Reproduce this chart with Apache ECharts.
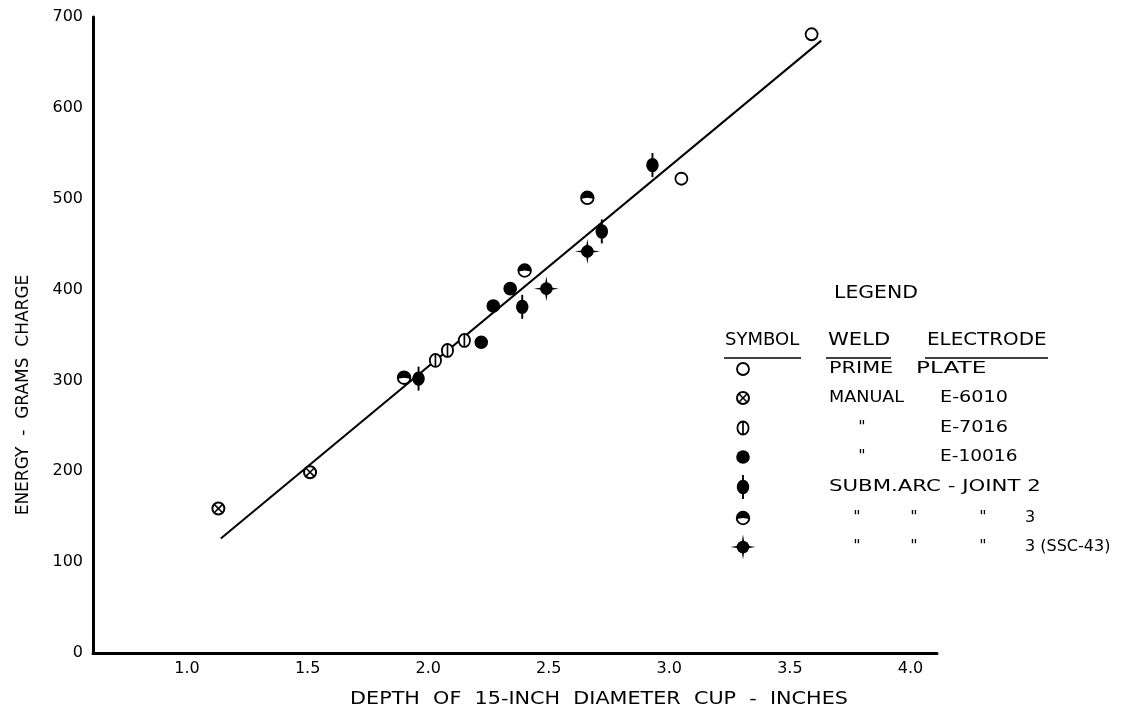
<!DOCTYPE html>
<html>
<head>
<meta charset="utf-8">
<script src="https://cdn.jsdelivr.net/npm/echarts@6/dist/echarts.min.js"></script>
<style>html,body{margin:0;padding:0;background:#fff;}#c{width:1133px;height:711px;}</style>
</head>
<body>
<div id="c"></div>
<script>
// ---- data ----
const X_TICKS = [1.0, 1.5, 2.0, 2.5, 3.0, 3.5, 4.0];
const Y_TICKS = [0, 100, 200, 300, 400, 500, 600, 700];

const PRIME_X = [3.05, 3.59];          // open circle: prime plate
const PRIME_Y = [522, 681];
const E6010_X = [1.13, 1.51];          // circle with X: manual E-6010
const E6010_Y = [159, 199];
const E7016_X = [2.03, 2.08, 2.15];    // circle with bar: manual E-7016
const E7016_Y = [322, 333, 344];
const E10016_X = [2.22, 2.27, 2.34];   // solid circle: manual E-10016
const E10016_Y = [342, 382, 401];
const JOINT2_X = [1.96, 2.39, 2.72, 2.93]; // subm. arc joint 2
const JOINT2_Y = [302, 381, 464, 537];
const JOINT3_X = [1.90, 2.40, 2.66];   // subm. arc joint 3
const JOINT3_Y = [303, 421, 501];
const SSC43_X = [2.49, 2.66];          // subm. arc joint 3 (SSC-43)
const SSC43_Y = [401, 442];
const FIT_X = [1.14, 3.63];            // fitted straight line
const FIT_Y = [126, 674];

const FONT = 'DejaVu Sans';

function pairs(xs, ys) { return xs.map((x, i) => [x, ys[i]]); }

function shapes(kind, cx, cy) {
  const k = '#000';
  const line = (x1, y1, x2, y2, w) => ({ type: 'line', shape: { x1, y1, x2, y2 }, style: { stroke: k, lineWidth: w || 1.5 } });
  switch (kind) {
    case 'open':
      return [{ type: 'circle', shape: { cx, cy, r: 6 }, style: { fill: '#fff', stroke: k, lineWidth: 1.8 } }];
    case 'xcircle':
      return [
        { type: 'circle', shape: { cx, cy, r: 6 }, style: { fill: '#fff', stroke: k, lineWidth: 2 } },
        line(cx - 4.2, cy - 4.2, cx + 4.2, cy + 4.2, 1.6),
        line(cx - 4.2, cy + 4.2, cx + 4.2, cy - 4.2, 1.6)
      ];
    case 'phi':
      return [
        { type: 'ellipse', shape: { cx, cy, rx: 5.6, ry: 6.5 }, style: { fill: '#fff', stroke: k, lineWidth: 1.8 } },
        line(cx, cy - 6.5, cx, cy + 6.5, 1.7)
      ];
    case 'solid':
      return [{ type: 'circle', shape: { cx, cy, r: 6.8 }, style: { fill: k } }];
    case 'joint2':
      return [
        { type: 'ellipse', shape: { cx, cy, rx: 6.2, ry: 7.2 }, style: { fill: k } },
        line(cx, cy - 12, cx, cy + 12, 1.9)
      ];
    case 'half':
      return [
        { type: 'circle', shape: { cx, cy, r: 6.3 }, style: { fill: '#fff', stroke: k, lineWidth: 1.8 } },
        { type: 'sector', shape: { cx, cy, r: 6.3, r0: 0, startAngle: Math.PI * 0.95, endAngle: Math.PI * 2.05 }, style: { fill: k } }
      ];
    case 'ssc':
      return [
        { type: 'circle', shape: { cx, cy, r: 6.3 }, style: { fill: k } },
        { type: 'polygon', shape: { points: [[cx, cy - 12.5], [cx + 1.7, cy - 1.7], [cx + 12.5, cy], [cx + 1.7, cy + 1.7], [cx, cy + 12.5], [cx - 1.7, cy + 1.7], [cx - 12.5, cy], [cx - 1.7, cy - 1.7]] }, style: { fill: k } }
      ];
  }
  return [];
}

function markerSeries(kind, xs, ys) {
  return {
    type: 'custom',
    data: pairs(xs, ys),
    encode: { x: 0, y: 1 },
    z: 5,
    renderItem: function (params, api) {
      const p = api.coord([api.value(0), api.value(1)]);
      return { type: 'group', children: shapes(kind, p[0], p[1]) };
    }
  };
}

// ---- legend (drawn as a table) ----
const LEG_SYM_X = 743;
const LEG_ROWS_Y = [369, 398, 428, 457, 487, 518, 547];
const LEG_KINDS = ['open', 'xcircle', 'phi', 'solid', 'joint2', 'half', 'ssc'];
const txt = (s, x, y, align, size, sx) => ({
  type: 'text', x, y, z: 10, scaleX: sx || 1,
  style: { text: s, font: (size || 16) + 'px "' + FONT + '"', fill: '#000', textAlign: align || 'left', textVerticalAlign: 'middle' }
});
const hline = (x1, x2, y) => ({ type: 'line', z: 10, shape: { x1, y1: y, x2, y2: y }, style: { stroke: '#000', lineWidth: 1.5 } });

const graphics = [
  txt('LEGEND', 876, 294, 'center', 17, 1.2),
  txt('SYMBOL', 725, 341, 'left', 17, 1.06),
  txt('WELD', 828, 341, 'left', 17, 1.24),
  txt('ELECTRODE', 927, 341, 'left', 17, 1.17),
  hline(724, 801, 358), hline(826, 891, 358), hline(925, 1048, 358),
  txt('PRIME', 829, 369, 'left', 16, 1.3), txt('PLATE', 916, 369, 'left', 16, 1.45),
  txt('MANUAL', 829, 398, 'left', 16, 1.1), txt('E-6010', 940, 398, 'left', 16, 1.2),
  txt('"', 862, 428, 'center'), txt('E-7016', 940, 428, 'left', 16, 1.2),
  txt('"', 862, 457, 'center'), txt('E-10016', 940, 457, 'left', 16, 1.16),
  txt('SUBM.ARC - JOINT 2', 829, 487, 'left', 16, 1.33),
  txt('"', 857, 518, 'center'), txt('"', 914, 518, 'center'), txt('"', 983, 518, 'center'), txt('3', 1025, 518),
  txt('"', 857, 547, 'center'), txt('"', 914, 547, 'center'), txt('"', 983, 547, 'center'), txt('3 (SSC-43)', 1025, 547),
  // axis titles
  txt('DEPTH  OF  15-INCH  DIAMETER  CUP  -  INCHES', 599, 700, 'center', 17, 1.22),
  {
    type: 'text', x: 24, y: 395, rotation: Math.PI / 2, z: 10,
    style: { text: 'ENERGY  -  GRAMS  CHARGE', font: '17px "' + FONT + '"', fill: '#000', textAlign: 'center', textVerticalAlign: 'middle' }
  }
];
LEG_KINDS.forEach((k, i) => {
  graphics.push({ type: 'group', z: 10, children: shapes(k, LEG_SYM_X, LEG_ROWS_Y[i]) });
});

const chart = echarts.init(document.getElementById('c'), null, { renderer: 'canvas' });
chart.setOption({
  backgroundColor: '#fff',
  animation: false,
  textStyle: { fontFamily: FONT },
  grid: { left: 93, right: 196, top: 17, bottom: 58, containLabel: false },
  xAxis: {
    type: 'value', min: 0.61, max: 4.11,
    axisLine: { show: true, onZero: false, lineStyle: { color: '#000', width: 3 } },
    axisTick: { show: false },
    splitLine: { show: false },
    axisLabel: {
      customValues: X_TICKS, color: '#000', fontSize: 16, fontFamily: FONT, margin: 8,
      formatter: v => Number(v).toFixed(1)
    }
  },
  yAxis: {
    type: 'value', min: 0, max: 700, interval: 100,
    axisLine: { show: true, lineStyle: { color: '#000', width: 3 } },
    axisTick: { show: false },
    splitLine: { show: false },
    axisLabel: {
      customValues: Y_TICKS, color: '#000', fontSize: 16, fontFamily: FONT, margin: 10,
      formatter: v => String(v)
    }
  },
  series: [
    {
      type: 'line', data: pairs(FIT_X, FIT_Y), symbol: 'none', z: 3,
      lineStyle: { color: '#000', width: 2 }
    },
    markerSeries('open', PRIME_X, PRIME_Y),
    markerSeries('xcircle', E6010_X, E6010_Y),
    markerSeries('phi', E7016_X, E7016_Y),
    markerSeries('solid', E10016_X, E10016_Y),
    markerSeries('joint2', JOINT2_X, JOINT2_Y),
    markerSeries('half', JOINT3_X, JOINT3_Y),
    markerSeries('ssc', SSC43_X, SSC43_Y)
  ],
  graphic: graphics
});
</script>
</body>
</html>
